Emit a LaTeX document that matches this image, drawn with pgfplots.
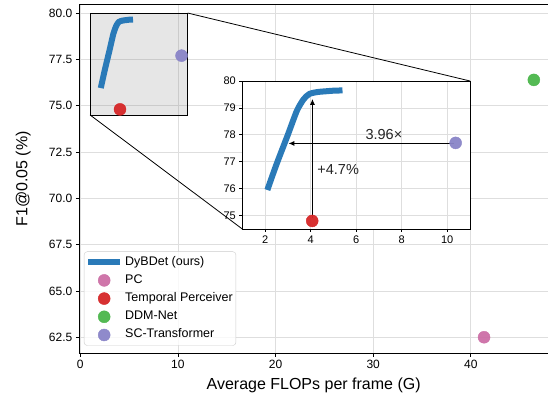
\documentclass[border=0pt]{standalone}
\usepackage{pgfplots}
\pgfplotsset{compat=1.18}
\usepackage{fontspec}
\setmainfont{Liberation Sans}
\usetikzlibrary{arrows.meta}
\definecolor{cblue}{HTML}{2A7AB8}
\definecolor{cpink}{HTML}{CC6FA6}
\definecolor{cred}{HTML}{D62728}
\definecolor{cgreen}{HTML}{4BB64B}
\definecolor{cpurple}{HTML}{8A85C8}
\definecolor{gridc}{HTML}{DEDEDE}
\pgfplotstableread{
x y
2.1 75.95
2.5 76.9
3.0 78.0
3.4 78.9
3.7 79.33
3.95 79.52
4.3 79.59
4.7 79.62
5.0 79.64
5.4 79.65
}\dybdet
\begin{document}
\begin{tikzpicture}
\begin{axis}[
  name=main,
  at={(0pt,0pt)}, anchor=south west,
  scale only axis, width=468.7pt, height=348.3pt,
  xmin=-0.1, xmax=47.9, ymin=61.65, ymax=80.45,
  axis x line*=bottom, axis y line*=left,
  axis line style={black, line width=0.9pt},
  xtick={0,10,20,30,40},
  ytick={62.5,65,67.5,70,72.5,75,77.5,80},
  yticklabel style={/pgf/number format/.cd, fixed, fixed zerofill, precision=1},
  /pgf/number format/assume math mode=true,
  ticklabel style={font=\fontsize{12}{14}\selectfont},
  tick align=outside, major tick length=3.5pt,
  tick style={black, line width=0.8pt},
  grid=major, grid style={gridc, line width=0.8pt},
  xlabel={Average FLOPs per frame (G)},
  ylabel={F1@0.05 (\%)},
  label style={font=\fontsize{16}{19}\selectfont},
  xlabel style={at={(axis description cs:0.5,-0.1062)}, anchor=base},
  ylabel style={at={(axis description cs:-0.1195,0.5)}, anchor=center},
  legend image code/.code={\draw[mark repeat=2,mark phase=2,#1] plot coordinates {(0pt,0pt) (16pt,0pt) (32pt,0pt)};},
  legend cell align=left,
  legend style={at={(0.01,0.021)}, anchor=south west, draw=black!20, rounded corners=3pt,
    fill=white, fill opacity=0.8, text opacity=1, font=\fontsize{12.5}{15}\selectfont,
    inner xsep=1pt, inner ysep=2.5pt, row sep=2.2pt,
    nodes={inner sep=2pt, text height=9pt, text depth=3pt}},
]
\draw[black, line width=0.8pt, fill=gray, fill opacity=0.2] (axis cs:1,74.5) rectangle (axis cs:11,80);
\coordinate (rTR) at (axis cs:11,80);
\coordinate (rBL) at (axis cs:1,74.5);
\addplot[cblue, line width=6pt, smooth, tension=0.4] table {\dybdet};
\addlegendentry{DyBDet (ours)}
\addplot[only marks, mark=*, mark size=6pt, cpink, mark options={fill opacity=0.95, draw=none, fill=cpink}] coordinates {(41.35,62.5)};
\addlegendentry{PC}
\addplot[only marks, mark=*, mark size=6pt, cred, mark options={fill opacity=0.95, draw=none, fill=cred}] coordinates {(4.07,74.8)};
\addlegendentry{Temporal Perceiver}
\addplot[only marks, mark=*, mark size=6pt, cgreen, mark options={fill opacity=0.95, draw=none, fill=cgreen}] coordinates {(46.45,76.39)};
\addlegendentry{DDM-Net}
\addplot[only marks, mark=*, mark size=6pt, cpurple, mark options={fill opacity=0.95, draw=none, fill=cpurple}] coordinates {(10.37,77.7)};
\addlegendentry{SC-Transformer}
\end{axis}
\draw[black, line width=0.9pt] (0pt,348.3pt) -- (468.7pt,348.3pt);
\begin{axis}[
  name=inset,
  at={(163pt,124pt)}, anchor=south west,
  scale only axis, width=227.7pt, height=148pt,
  xmin=1, xmax=11, ymin=74.5, ymax=80,
  xtick={2,4,6,8,10}, ytick={75,76,77,78,79,80},
  axis background/.style={fill=white},
  axis line style={black, line width=0.8pt},
  /pgf/number format/assume math mode=true,
  ticklabel style={font=\fontsize{11}{13}\selectfont},
  tick align=outside, major tick length=3pt,
  tick style={black, line width=0.8pt},
  xtick pos=bottom, ytick pos=left,
  grid=major, grid style={gridc, line width=0.8pt},
]
\addplot[cblue, line width=6pt, smooth, tension=0.4] table {\dybdet};
\draw[black, line width=1.4pt, -{Latex[length=6pt,width=5pt]}] (axis cs:4.08,74.9) -- (axis cs:4.08,79.34);
\draw[black, line width=1.4pt, -{Latex[length=6pt,width=5pt]}] (axis cs:10.3,77.68) -- (axis cs:3.02,77.68);
\addplot[cred, only marks, mark=*, mark size=6pt, mark options={fill opacity=0.95, draw=none, fill=cred}] coordinates {(4.07,74.8)};
\addplot[cpurple, only marks, mark=*, mark size=6pt, mark options={fill opacity=0.95, draw=none, fill=cpurple}] coordinates {(10.37,77.7)};
\node[font=\fontsize{14.5}{17}\selectfont, text=black!85] at (axis cs:7.22,78.02) {3.96×};
\node[font=\fontsize{14.5}{17}\selectfont, text=black!85] at (axis cs:5.21,76.71) {+4.7\%};
\end{axis}
\draw[black, line width=0.8pt] (rTR) -- (inset.north east);
\draw[black, line width=0.8pt] (rBL) -- (inset.south west);
\pgfresetboundingbox
\path[use as bounding box] (-79.3pt,-43pt) rectangle (468.7pt,353pt);
\end{tikzpicture}
\end{document}
